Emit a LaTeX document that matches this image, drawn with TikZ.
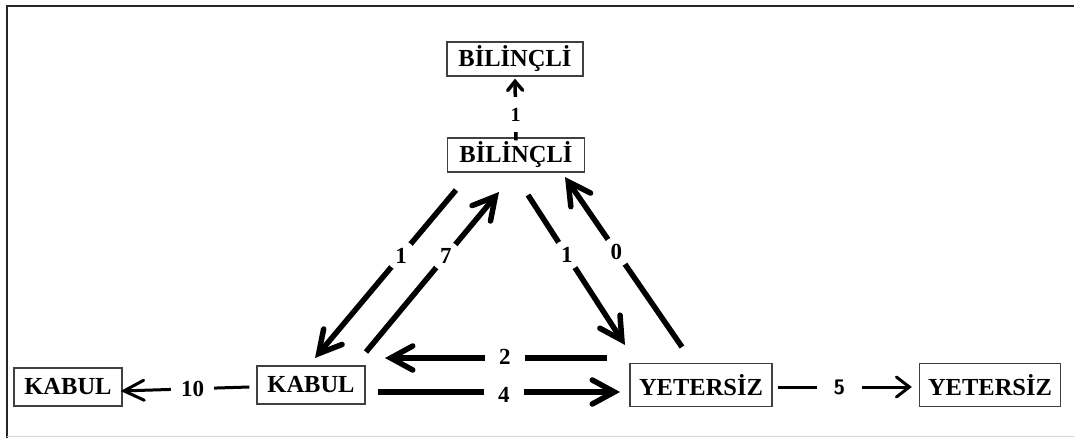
\documentclass[tikz,border=0pt]{standalone}
\usepackage{fontspec}
\setmainfont{Liberation Serif}
\usetikzlibrary{arrows.meta}
\begin{document}
\begin{tikzpicture}[x=1pt,y=-1pt,
  box/.style={draw=black!75, line width=1.3pt, fill=white, inner sep=0pt,
    font=\bfseries\fontsize{24.5}{24.5}\selectfont},
  num/.style={fill=white, inner sep=0pt, font=\bfseries\fontsize{23}{23}\selectfont},
  gapc/.style={num, circle, minimum size=#1},
  heavy/.style={line width=5.5pt, line cap=butt,
    -{Straight Barb[length=22pt,width=24pt,line cap=round]}},
  light/.style={line width=3pt,
    -{Straight Barb[length=#1,width=20pt,line cap=round]}},
]
\useasboundingbox (0,0) rectangle (1074,438);
% outer frame
\draw[black!85, line width=1.6pt] (7,438) -- (7,6) -- (1074,6);
\draw[black!15, line width=1pt] (7,436.5) -- (1074,436.5);

% boxes
\node[box, minimum width=136pt, minimum height=34pt] (bilTop) at (515,59) {BİLİNÇLİ};
\node[box, minimum width=137pt, minimum height=34pt] (bil) at (516,155) {BİLİNÇLİ};
\node[box, minimum width=108pt, minimum height=38pt] (kabL) at (68,387) {KABUL};
\node[box, minimum width=108pt, minimum height=38pt] (kab) at (311,385) {KABUL};
\node[box, minimum width=142pt, minimum height=43pt] (yet) at (701,385) {YETERSİZ};
\node[box, minimum width=141pt, minimum height=43pt] (yetR) at (990,385) {YETERSİZ};

% free ends of the diagonal and middle arrows
\coordinate (bkS) at (456,190);  \coordinate (bkE) at (315,358);
\coordinate (kbS) at (366,352);  \coordinate (kbE) at (499,192);
\coordinate (byS) at (528,195);  \coordinate (byE) at (625,345);
\coordinate (ybS) at (682,347);  \coordinate (ybE) at (565,177);
\coordinate (ykS) at (607,358);  \coordinate (ykE) at (385,358);
\coordinate (kyS) at (378,392);  \coordinate (kyE) at (620,392);

% vertical step between the two top boxes
\draw[line width=3.5pt, -{Straight Barb[length=9pt,width=15pt,line cap=round]}]
  ([yshift=-3pt]bil.north) -- ([yshift=-2pt]bilTop.south)
  node[num, pos=0.42, minimum height=35pt, minimum width=14pt, font=\bfseries\fontsize{20}{20}\selectfont] {1};

% triangle of transitions
\draw[heavy] (bkS) -- (bkE) node[gapc=30pt, pos=0.39] {1};
\draw[heavy] (kbS) -- (kbE) node[gapc=30pt, pos=0.60] {7};
\draw[heavy] (byS) -- (byE) node[gapc=30pt, pos=0.40] {1};
\draw[heavy] (ybS) -- (ybE) node[gapc=30pt, pos=0.56] {0};
\draw[heavy] (ykS) -- (ykE) node[num, pos=0.46, minimum width=40pt, minimum height=16pt, yshift=1pt] {2};
\draw[heavy] (kyS) -- (kyE) node[num, pos=0.52, minimum width=40pt, minimum height=16pt, yshift=-3pt] {4};

% outward transitions
\draw[light=20pt] ([xshift=-7pt,yshift=-2pt]kab.west) -- ([xshift=-2pt,yshift=-4pt]kabL.east)
  node[num, pos=0.44, minimum width=43pt, minimum height=14pt] {10};
\draw[light=13pt] ([xshift=5pt,yshift=-2pt]yet.east) -- ([xshift=-7pt,yshift=-2pt]yetR.west)
  node[num, pos=0.46, minimum width=45pt, minimum height=14pt, font=\sffamily\bfseries\fontsize{21}{21}\selectfont] {5};
\end{tikzpicture}
\end{document}
